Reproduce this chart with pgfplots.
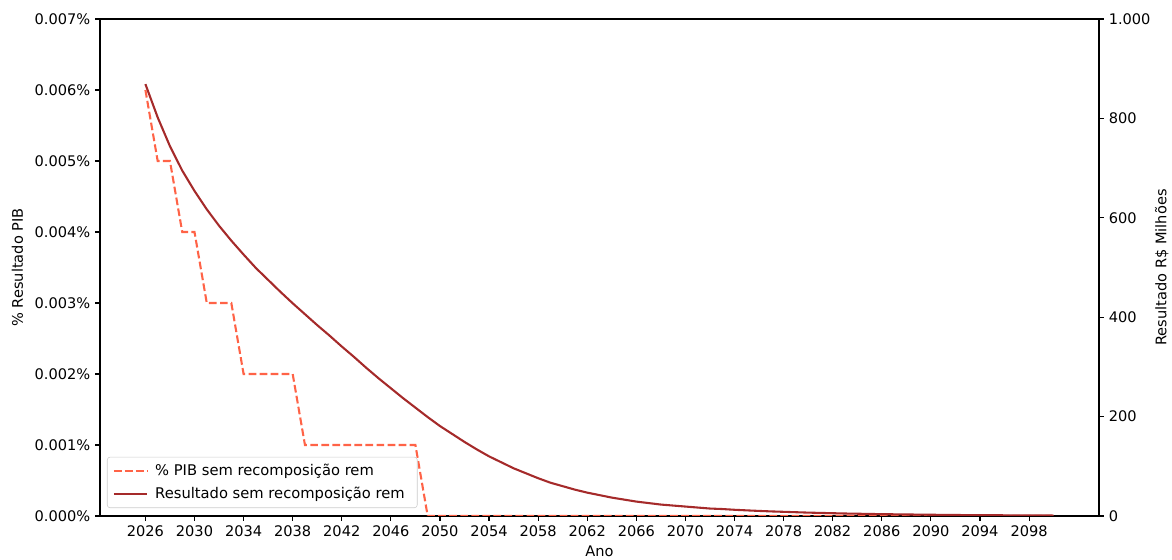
\documentclass[border=0pt]{standalone}
\usepackage{fontspec}
\setmainfont{DejaVu Sans}
\usepackage{pgfplots}
\pgfplotsset{compat=1.18}
\definecolor{dashc}{HTML}{FF6347}
\definecolor{solidc}{HTML}{A52A2A}
\pgfplotsset{
  /pgf/number format/assume math mode=true,
  common/.style={
    at={(0,0)}, anchor=south west,
    scale only axis, width=719.28pt, height=357.84pt,
    xmin=2022.3, xmax=2103.7,
    scaled ticks=false,
    tick align=outside, major tick length=3.5pt,
    every tick/.style={black, line width=0.8pt},
    axis line style={black, line width=0.8pt},
    tick label style={font=\fontsize{10.5}{12}\selectfont},
    label style={font=\fontsize{10.5}{12}\selectfont},
  }
}
\begin{document}
\begin{tikzpicture}
\path[use as bounding box] (-72pt,-31.68pt) rectangle (771.84pt,371.52pt);
\begin{axis}[common,
  ymin=0, ymax=0.007,
  xtick={2026,2030,2034,2038,2042,2046,2050,2054,2058,2062,2066,2070,2074,2078,2082,2086,2090,2094,2098},
  xticklabel style={/pgf/number format/1000 sep={}},
  xtick pos=bottom, ytick pos=left,
  ytick={0,0.001,0.002,0.003,0.004,0.005,0.006,0.007},
  yticklabels={0.000\%,0.001\%,0.002\%,0.003\%,0.004\%,0.005\%,0.006\%,0.007\%},
  xlabel={Ano}, ylabel={\% Resultado PIB},
  xlabel style={yshift=0pt},
  ylabel style={yshift=1.5pt},
]
\addplot[dashc, line width=1.5pt, dash pattern=on 5.55pt off 2.4pt] coordinates {
(2026,0.006)(2027,0.005)(2028,0.005)(2029,0.004)(2030,0.004)(2031,0.003)(2032,0.003)(2033,0.003)
(2034,0.002)(2035,0.002)(2036,0.002)(2037,0.002)(2038,0.002)
(2039,0.001)(2040,0.001)(2041,0.001)(2042,0.001)(2043,0.001)(2044,0.001)(2045,0.001)(2046,0.001)(2047,0.001)(2048,0.001)
(2049,0)(2050,0)(2060,0)(2070,0)(2080,0)(2090,0)(2100,0)
};
\end{axis}
\begin{axis}[common,
  ymin=0, ymax=1000,
  axis x line=none,
  axis y line*=right,
  ytick={0,200,400,600,800,1000},
  yticklabels={0,200,400,600,800,1.000},
  ylabel={Resultado R\$ Milhões},
  ylabel style={yshift=3.6pt},
  legend style={at={(0.007,0.016)}, anchor=south west, draw=black!20, rounded corners=2pt,
    fill=white, fill opacity=0.8, text opacity=1, font=\fontsize{10.6}{12}\selectfont,
    inner xsep=4pt, inner ysep=3pt, row sep=3pt,
    nodes={inner xsep=5pt}},
  legend cell align=left,
  legend image code/.code={\draw[#1] (0pt,0pt) -- (24pt,0pt);},
]
\addlegendimage{dashc, line width=1.5pt, dash pattern=on 5.55pt off 2.4pt}
\addlegendentry{\% PIB sem recomposição rem}
\addplot[solidc, line width=1.5pt] coordinates {
(2026,869)(2027,802)(2028,744)(2029,695)(2030,654)(2031,617)(2032,584)(2033,554)(2034,526)(2035,499)
(2036,475)(2037,451)(2038,428)(2039,406)(2040,384)(2041,363)(2042,341)(2043,320)(2044,298)(2045,277)
(2046,257)(2047,237)(2048,218)(2049,199)(2050,181)(2051,165)(2052,149)(2053,134)(2054,120)(2055,108)
(2056,96)(2057,86)(2058,76)(2059,67)(2060,60)(2061,53)(2062,47)(2063,42)(2064,37)(2065,33)
(2066,29)(2067,26)(2068,23)(2069,21)(2070,19)(2071,17)(2072,15)(2073,14)(2074,12.5)(2075,11.3)
(2076,10.2)(2077,9.2)(2078,8.4)(2079,7.6)(2080,6.8)(2081,6.2)(2082,5.6)(2083,5.0)(2084,4.6)(2085,4.1)
(2086,3.7)(2087,3.4)(2088,3.1)(2089,2.8)(2090,2.5)(2091,2.3)(2092,2.0)(2093,1.8)(2094,1.7)(2095,1.5)
(2096,1.4)(2097,1.2)(2098,1.1)(2099,1.0)(2100,0.9)
};
\addlegendentry{Resultado sem recomposição rem}
\end{axis}
\end{tikzpicture}
\end{document}
